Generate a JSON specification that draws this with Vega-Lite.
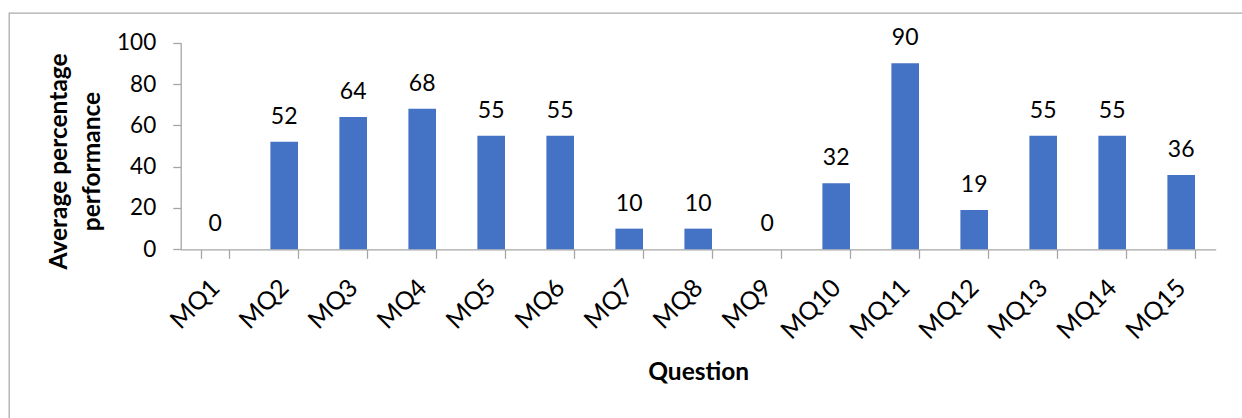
{
  "$schema": "https://vega.github.io/schema/vega-lite/v6.json",
  "autosize": {"type": "none"},
  "width": 1236,
  "height": 408,
  "padding": {"left": 9, "top": 13, "right": -3, "bottom": -3},
  "background": "white",
  "config": {
    "view": {"stroke": "#ABABAB", "strokeWidth": 1.3},
    "font": "Lato",
    "axis": {
      "domainColor": "#A6A6A6",
      "tickColor": "#A6A6A6",
      "domainWidth": 1.3,
      "tickWidth": 1.3,
      "labelColor": "#000000",
      "titleColor": "#000000",
      "labelFont": "Lato",
      "titleFont": "Lato",
      "labelFontSize": 22.5,
      "titleFontSize": 24.5,
      "titleFontWeight": "bold",
      "grid": false
    }
  },
  "data": {
    "values": [
      {"question": "MQ1", "performance": 0},
      {"question": "MQ2", "performance": 52},
      {"question": "MQ3", "performance": 64},
      {"question": "MQ4", "performance": 68},
      {"question": "MQ5", "performance": 55},
      {"question": "MQ6", "performance": 55},
      {"question": "MQ7", "performance": 10},
      {"question": "MQ8", "performance": 10},
      {"question": "MQ9", "performance": 0},
      {"question": "MQ10", "performance": 32},
      {"question": "MQ11", "performance": 90},
      {"question": "MQ12", "performance": 19},
      {"question": "MQ13", "performance": 55},
      {"question": "MQ14", "performance": 55},
      {"question": "MQ15", "performance": 36}
    ]
  },
  "encoding": {
    "x": {
      "field": "question",
      "type": "nominal",
      "sort": null,
      "scale": {"range": [171.7, 1206.7], "paddingInner": 0.6, "paddingOuter": 0.3},
      "axis": {
        "orient": "bottom",
        "offset": -171.7,
        "labelAngle": -45,
        "labelAlign": "right",
        "labelBaseline": "middle",
        "labelFontSize": 25,
        "labelPadding": 25,
        "tickSize": 9,
        "tickBand": "extent",
        "title": "Question",
        "titleY": 130,
        "titleBaseline": "alphabetic"
      }
    },
    "y": {
      "field": "performance",
      "type": "quantitative",
      "scale": {"domain": [0, 100], "range": [236.3, 29.7], "nice": false},
      "axis": {
        "orient": "left",
        "offset": -171.7,
        "values": [0, 20, 40, 60, 80, 100],
        "tickSize": 8,
        "labelPadding": 17,
        "title": ["Average percentage", "performance"],
        "titleAngle": 270,
        "titleAlign": "center",
        "titleBaseline": "alphabetic",
        "titleLineHeight": 33,
        "titleX": -114,
        "titleY": 148
      }
    }
  },
  "layer": [
    {"mark": {"type": "bar", "color": "#4472C4"}},
    {
      "mark": {"type": "text", "baseline": "alphabetic", "dy": -18, "fontSize": 23, "color": "#000000", "font": "Lato"},
      "encoding": {"text": {"field": "performance", "type": "quantitative"}}
    }
  ]
}
